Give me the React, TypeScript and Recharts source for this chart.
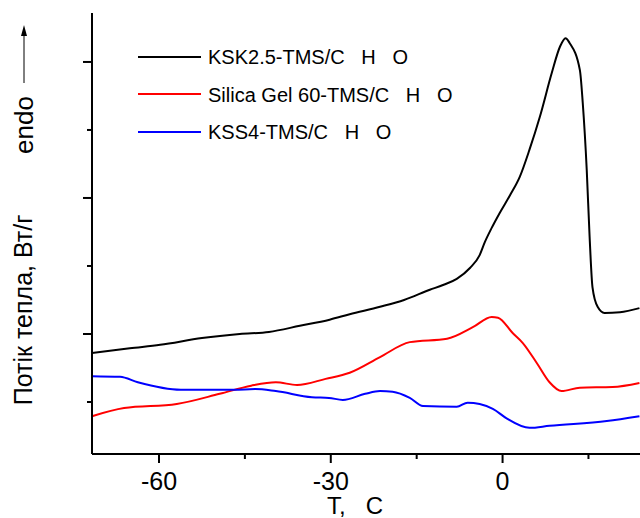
import React from 'react';
import { LineChart, Line, XAxis, YAxis, Legend } from 'recharts';

// temperature (°C) / heat flow (arb. units, ticks at 1..6)
const kskT = [-71.7, -65.1, -59.8, -52.5, -45.9, -40.8, -35.4, -30.2, -26.7, -21.4, -17.2, -12.7, -10.4, -8.0, -5.7, -4.0, -3.1, -1.9, -0.5, 1.3, 3.0, 4.7, 6.5, 8.6, 10.0, 11.0, 11.7, 13.5, 14.0, 14.7, 15.2, 15.7, 16.6, 17.8, 20.5, 23.9];
const kskQ = [1.72, 1.79, 1.84, 1.94, 2.0, 2.03, 2.12, 2.21, 2.29, 2.4, 2.5, 2.65, 2.72, 2.81, 2.97, 3.16, 3.35, 3.56, 3.78, 4.04, 4.31, 4.71, 5.19, 5.84, 6.22, 6.35, 6.28, 5.88, 5.4, 4.41, 3.43, 2.69, 2.4, 2.31, 2.32, 2.38];

const silicaT = [-71.7, -66.1, -56.9, -49.4, -43.9, -39.6, -35.9, -30.9, -26.7, -21.4, -16.2, -9.7, -5.2, -1.9, -0.8, 1.8, 3.5, 6.0, 8.2, 10.3, 13.5, 19.2, 23.9];
const silicaQ = [0.79, 0.91, 0.97, 1.12, 1.24, 1.29, 1.25, 1.34, 1.43, 1.66, 1.88, 1.93, 2.1, 2.25, 2.24, 2.01, 1.87, 1.57, 1.29, 1.16, 1.21, 1.22, 1.28];

const kssT = [-71.7, -66.8, -63.7, -56.2, -46.9, -43.2, -39.6, -33.3, -30.3, -27.9, -24.0, -21.4, -19.2, -16.2, -13.9, -8.0, -6.1, -4.0, -1.7, 0.7, 4.7, 8.2, 18.2, 23.9];
const kssQ = [1.38, 1.37, 1.29, 1.18, 1.18, 1.19, 1.16, 1.07, 1.06, 1.03, 1.12, 1.16, 1.15, 1.06, 0.94, 0.93, 0.99, 0.97, 0.9, 0.76, 0.62, 0.65, 0.72, 0.79];

const xTicks = [-60, -45, -30, -15, 0, 15];
const xLabelled = [-60, -30, 0];
const yTicks = [1, 2, 3, 4, 5, 6];
const yMajor = [2, 4, 6];

const seriesNames = ['KSK2.5-TMS/C   H   O', 'Silica Gel 60-TMS/C   H   O', 'KSS4-TMS/C   H   O'];
const seriesColors = ['#000000', '#ff0000', '#0000ff'];

const toRows = (t: number[], q: number[]) => t.map((v, i) => ({ t: v, q: q[i] }));

const series = [toRows(kskT, kskQ), toRows(silicaT, silicaQ), toRows(kssT, kssQ)];

const FONT = '"Liberation Sans", Arial, sans-serif';
const TICK = 9;
const MARGIN = 9;

// tick marks drawn by hand so major/minor can differ in length
function XTick(props: any) {
  const { x, y, payload } = props;
  const axisY = y - TICK - MARGIN;
  const major = xLabelled.includes(payload.value);
  return (
    <g>
      <line x1={x} x2={x} y1={axisY} y2={axisY + (major ? TICK : 5)} stroke="#000" strokeWidth={2} />
      {major && (
        <text x={x} y={y + 18} textAnchor="middle" fontSize={25} fill="#000" fontFamily={FONT}>
          {payload.value}
        </text>
      )}
    </g>
  );
}

function YTick(props: any) {
  const { x, y, payload } = props;
  const axisX = x + TICK;
  const major = yMajor.includes(payload.value);
  return <line x1={axisX - (major ? TICK : 5)} x2={axisX} y1={y} y2={y} stroke="#000" strokeWidth={2} />;
}

function LegendBox() {
  return (
    <div>
      {seriesNames.map((name, i) => (
        <div key={name} style={{ display: 'flex', alignItems: 'center', height: 37.5 }}>
          <div style={{ width: 63, height: 2, background: seriesColors[i], marginRight: 7, marginTop: -2 }} />
          <span style={{ fontSize: 20, whiteSpace: 'pre', color: '#000', fontFamily: FONT }}>{name}</span>
        </div>
      ))}
    </div>
  );
}

export default function App() {
  const axisStroke = { stroke: '#000', strokeWidth: 2 };
  return (
    <div style={{ position: 'absolute', left: 0, top: 0, width: 640, height: 518, background: '#fff', fontFamily: FONT }}>
      <LineChart width={640} height={518} data={series[0]} margin={{ top: 13, right: 0, left: 0, bottom: 0 }}>
        <XAxis
          xAxisId="x"
          dataKey="t"
          type="number"
          domain={[-71.6, 24]}
          ticks={xTicks}
          height={64}
          axisLine={axisStroke}
          tickLine={false}
          tickSize={TICK}
          tickMargin={MARGIN}
          tick={XTick}
        />
        <YAxis
          yAxisId="y"
          type="number"
          domain={[0.235, 6.72]}
          ticks={yTicks}
          width={92}
          axisLine={axisStroke}
          tickLine={false}
          tickSize={TICK}
          tickMargin={0}
          tick={YTick}
        />
        <Legend
          layout="vertical"
          align="center"
          verticalAlign="middle"
          content={() => <LegendBox />}
          wrapperStyle={{ left: 138, top: 39, width: 'auto' }}
        />
        {series.map((rows, i) => (
          <Line
            key={seriesNames[i]}
            data={rows}
            dataKey="q"
            name={seriesNames[i]}
            xAxisId="x"
            yAxisId="y"
            type="monotone"
            stroke={seriesColors[i]}
            strokeWidth={2}
            dot={false}
            isAnimationActive={false}
          />
        ))}
      </LineChart>
      <svg width={640} height={518} style={{ position: 'absolute', left: 0, top: 0, pointerEvents: 'none' }}>
        <text transform="translate(32,310) rotate(-90)" textAnchor="middle" fontSize={25} fill="#000" fontFamily={FONT}>
          Потік тепла, Вт/г
        </text>
        <text transform="translate(33,125) rotate(-90)" textAnchor="middle" fontSize={26} fill="#000" fontFamily={FONT}>
          endo
        </text>
        <line x1={24} y1={83} x2={24} y2={34} stroke="#000" strokeWidth={1} />
        <polygon points="24,25 21,36 27,36" fill="#000" />
        <text x={355} y={514} textAnchor="middle" fontSize={24} fill="#000" fontFamily={FONT} style={{ whiteSpace: 'pre' }}>
          {'T,   C'}
        </text>
      </svg>
    </div>
  );
}
